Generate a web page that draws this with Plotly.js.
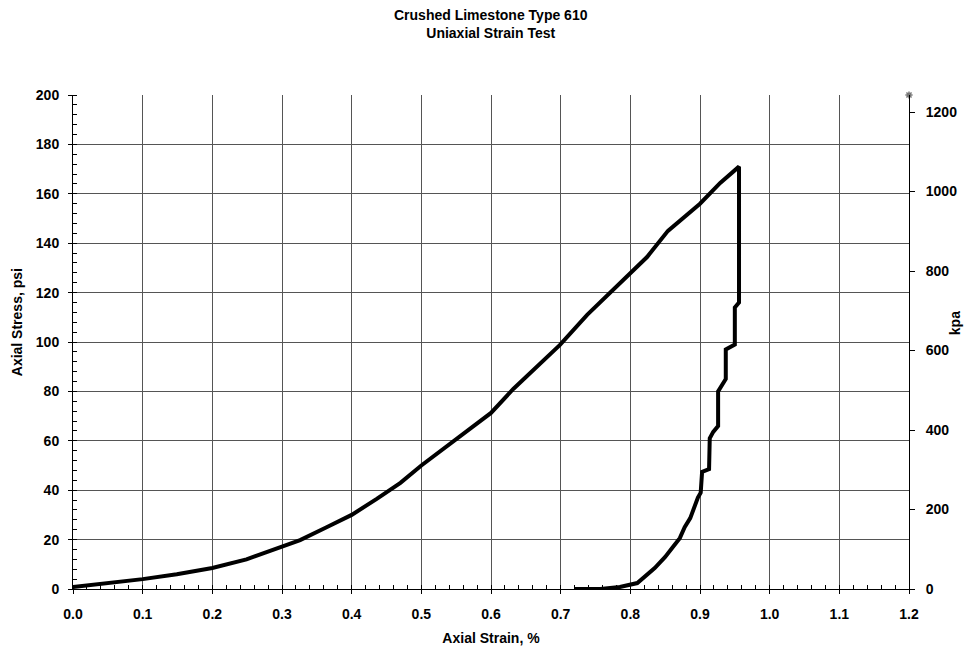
<!DOCTYPE html>
<html>
<head>
<meta charset="utf-8">
<script src="https://cdn.plot.ly/plotly-3.0.1.min.js"></script>
<style>html,body{margin:0;padding:0;background:#fff;}#chart{width:967px;height:651px;}</style>
</head>
<body>
<div id="chart"></div>
<script>
// Loading branch (strain %, stress psi)
var loadStrain = [0, 0.053, 0.1, 0.149, 0.2, 0.249, 0.3, 0.326, 0.364, 0.4, 0.436, 0.47, 0.5, 0.545, 0.57, 0.6, 0.632, 0.665, 0.699, 0.738, 0.771, 0.795, 0.824, 0.854, 0.886, 0.9, 0.929, 0.956];
var loadStress = [0.8, 2.4, 4, 6, 8.5, 12, 17, 19.8, 25, 30, 36.5, 43, 50, 59.5, 65, 71.3, 81, 90, 98.8, 111, 120, 127, 134.4, 145, 152.6, 156, 164.4, 171];
// Unloading branch
var unloadStrain = [0.956, 0.956, 0.950, 0.950, 0.937, 0.937, 0.930, 0.926, 0.926, 0.919, 0.914, 0.913, 0.903, 0.901, 0.897, 0.893, 0.886, 0.878, 0.871, 0.860, 0.850, 0.835, 0.821, 0.810, 0.785, 0.757, 0.72];
var unloadStress = [171, 116, 114, 99, 97, 85, 82, 80, 66, 63.6, 61, 48.5, 47.4, 39, 37, 34, 28.7, 25, 20.6, 16.6, 13, 8.5, 4.9, 2.4, 0.8, 0, 0];
// Corner marker point
var markStrain = [1.2];
var markStress = [200];
// Axis ticks
var xTicks = [0, 0.1, 0.2, 0.3, 0.4, 0.5, 0.6, 0.7, 0.8, 0.9, 1.0, 1.1, 1.2];
var yTicks = [0, 20, 40, 60, 80, 100, 120, 140, 160, 180, 200];
var kpaTicks = [0, 200, 400, 600, 800, 1000, 1200];
var titleLines = ['Crushed Limestone Type 610', 'Uniaxial Strain Test'];

var F = 'Liberation Sans, Arial, sans-serif';
var traces = [
  {x: loadStrain.concat(unloadStrain), y: loadStress.concat(unloadStress), type: 'scatter', mode: 'lines',
   line: {color: '#000', width: 4}, hoverinfo: 'skip'},
  {x: markStrain, y: markStress, type: 'scatter', mode: 'markers', cliponaxis: false,
   marker: {symbol: 'asterisk-open', size: 6, color: '#777', line: {color: '#777', width: 1.5}}},
  {x: [0], y: [0], yaxis: 'y2', type: 'scatter', mode: 'markers', marker: {opacity: 0}, hoverinfo: 'skip'}
];
var layout = {
  width: 967, height: 651,
  margin: {l: 73, r: 58, t: 95, b: 62},
  paper_bgcolor: '#fff', plot_bgcolor: '#fff',
  showlegend: false,
  font: {family: F, size: 14, color: '#000'},
  xaxis: {range: [0, 1.2], tickvals: xTicks, ticktext: xTicks.map(function(v){return '<b>' + v.toFixed(1) + '</b>';}),
          showgrid: true, gridcolor: '#555', gridwidth: 1, zeroline: false,
          showline: true, linecolor: '#000', linewidth: 1,
          ticks: 'outside', ticklen: 4, tickcolor: '#000', ticklabelstandoff: 8,
          minor: {dtick: 0.02, ticks: 'inside', ticklen: 4, tickcolor: '#000', showgrid: false},
          title: {text: '<b>Axial Strain, %</b>', standoff: 12, font: {family: F, size: 14, color: '#000'}},
          tickfont: {family: F, size: 14, color: '#000'}},
  yaxis: {range: [0, 200], tickvals: yTicks, ticktext: yTicks.map(function(v){return '<b>' + v + '</b>';}),
          showgrid: true, gridcolor: '#555', gridwidth: 1, zeroline: false,
          showline: true, linecolor: '#000', linewidth: 1,
          ticks: 'outside', ticklen: 4, tickcolor: '#000', ticklabelstandoff: 6,
          minor: {dtick: 4, ticks: 'inside', ticklen: 4, tickcolor: '#000', showgrid: false},
          tickfont: {family: F, size: 14, color: '#000'}},
  yaxis2: {overlaying: 'y', side: 'right', range: [0, 1243], tickvals: kpaTicks, ticktext: kpaTicks.map(function(v){return '<b>' + v + '</b>';}),
           showgrid: false, zeroline: false, showline: true, linecolor: '#000', linewidth: 1,
           ticks: 'outside', ticklen: 5, tickcolor: '#000', ticklabelstandoff: 8,
           tickfont: {family: F, size: 14, color: '#000'}},
  annotations: [
    {text: '<b>' + titleLines.join('</b><br><b>') + '</b>', xref: 'paper', yref: 'paper', x: 0.5, y: 1.1437, showarrow: false,
     xanchor: 'center', yanchor: 'middle', align: 'center', font: {family: F, size: 14, color: '#000'}},
    {text: '<b>Axial Stress, psi</b>', xref: 'paper', yref: 'paper', x: -0.067, y: 0.54, textangle: -90, showarrow: false,
     xanchor: 'center', yanchor: 'middle', font: {family: F, size: 14, color: '#000'}},
    {text: '<b>kpa</b>', xref: 'paper', yref: 'paper', x: 1.055, y: 0.538, textangle: -90, showarrow: false,
     xanchor: 'center', yanchor: 'middle', font: {family: F, size: 14, color: '#000'}}
  ]
};
Plotly.newPlot('chart', traces, layout, {displayModeBar: false, staticPlot: true});
</script>
</body>
</html>
